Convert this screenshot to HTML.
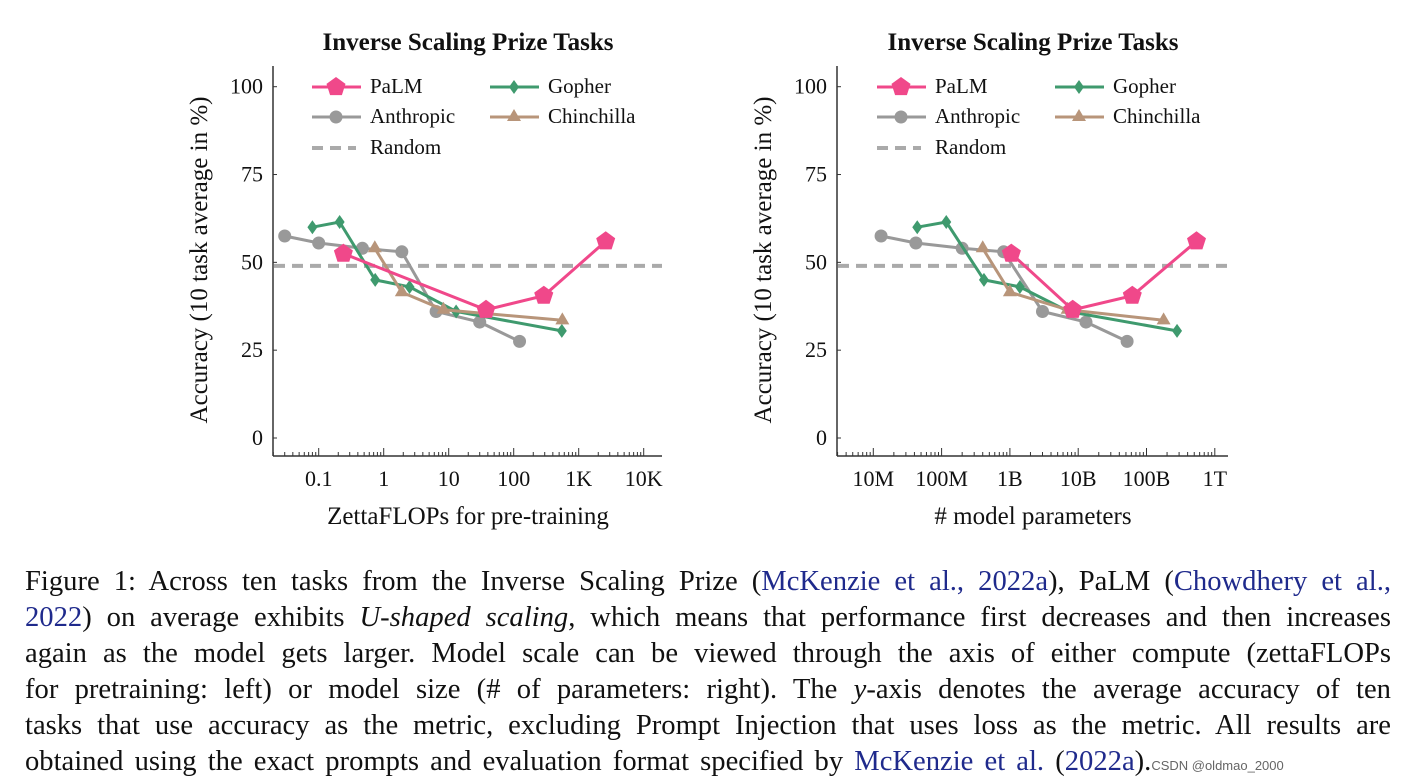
<!DOCTYPE html>
<html><head><meta charset="utf-8"><style>
body{margin:0;width:1405px;height:777px;background:#fff;overflow:hidden;position:relative;font-family:"Liberation Serif",serif;}
svg{position:absolute;left:0;top:0}
#cap{position:absolute;left:25px;top:564px;width:1366px;font-size:28.6px;line-height:36px;color:#111;}
#cap div{text-align:justify;text-align-last:justify;white-space:nowrap;height:36px}
#cap div.last{text-align-last:left;word-spacing:4px}
#cap a{color:#1f2a8c;text-decoration:none}
.wm{font-family:"Liberation Sans",sans-serif;font-size:13px;color:#666;word-spacing:0}
</style></head><body>
<svg id="chart" width="1405" height="560"></svg>
<div id="cap">
<div>Figure 1: Across ten tasks from the Inverse Scaling Prize (<a>McKenzie et al., 2022a</a>), PaLM (<a>Chowdhery et al.,</a></div>
<div><a>2022</a>) on average exhibits <i>U-shaped scaling</i>, which means that performance first decreases and then increases</div>
<div>again as the model gets larger. Model scale can be viewed through the axis of either compute (zettaFLOPs</div>
<div>for pretraining: left) or model size (# of parameters: right). The <i>y</i>-axis denotes the average accuracy of ten</div>
<div>tasks that use accuracy as the metric, excluding Prompt Injection that uses loss as the metric. All results are</div>
<div class="last">obtained using the exact prompts and evaluation format specified by <a>McKenzie et al.</a> (<a>2022a</a>).<span class="wm">CSDN @oldmao_2000</span></div>
</div>
<script>
// Left chart data (x = ZettaFLOPs)
const leftAnthropicX=[0.03,0.1,0.47,1.9,6.4,30,123];
const leftAnthropicY=[57.5,55.5,54,53,36,33,27.5];
const leftGopherX=[0.08,0.21,0.74,2.5,13,550];
const leftGopherY=[60,61.5,45,43,36,30.5];
const leftChinX=[0.73,1.9,8.3,560];
const leftChinY=[54,41.5,36.5,33.5];
const leftPalmX=[0.24,37.5,290,2600];
const leftPalmY=[52.5,36.5,40.5,56];
// Right chart data (x = parameters)
const rightAnthropicX=[1.3e7,4.2e7,2e8,8.1e8,3e9,1.3e10,5.2e10];
const rightAnthropicY=[57.5,55.5,54,53,36,33,27.5];
const rightGopherX=[4.4e7,1.17e8,4.17e8,1.4e9,7.2e9,2.8e11];
const rightGopherY=[60,61.5,45,43,36,30.5];
const rightChinX=[4e8,1e9,7e9,1.78e11];
const rightChinY=[54,41.5,36.5,33.5];
const rightPalmX=[1.05e9,8.3e9,6.2e10,5.4e11];
const rightPalmY=[52.5,36.5,40.5,56];
const yTicks=[0,25,50,75,100];
const leftXTickVals=[0.1,1,10,100,1000,10000];
const leftXTickLabels=["0.1","1","10","100","1K","10K"];
const rightXTickVals=[1e7,1e8,1e9,1e10,1e11,1e12];
const rightXTickLabels=["10M","100M","1B","10B","100B","1T"];
const randomLevel=49;

const S=document.getElementById('chart');const NS='http://www.w3.org/2000/svg';
function el(t,a,p){const e=document.createElementNS(NS,t);for(const k in a)e.setAttribute(k,a[k]);(p||S).appendChild(e);return e;}
function txt(x,y,s,a){const e=el('text',Object.assign({x:x,y:y,'font-family':'"Liberation Serif",serif','font-size':22,fill:'#111'},a||{}));e.textContent=s;return e;}
const C={palm:'#f0488a',gopher:'#3f9a6e',anth:'#999',chin:'#b8957a',rand:'#aaa'};
function marker(g,type,x,y){let e;
 if(type==='palm'){let p=[];for(let i=0;i<5;i++){const a=-Math.PI/2+i*2*Math.PI/5;p.push((x+10*Math.cos(a)).toFixed(1)+','+(y+10*Math.sin(a)).toFixed(1));}e=el('polygon',{points:p.join(' '),fill:C.palm},g);}
 else if(type==='anth')e=el('circle',{cx:x,cy:y,r:6.5,fill:C.anth},g);
 else if(type==='gopher')e=el('polygon',{points:`${x},${y-7} ${x+5},${y} ${x},${y+7} ${x-5},${y}`,fill:C.gopher},g);
 else e=el('polygon',{points:`${x},${y-8} ${x+7},${y+4} ${x-7},${y+4}`,fill:C.chin},g);
 }
function chart(o){
 const g=el('g',{});
 const y=v=>438-v*3.513;
 const x=v=>o.x0+(Math.log10(v)-o.l0)*o.dec;
 txt(o.cx,50,'Inverse Scaling Prize Tasks',{'font-weight':'bold','font-size':25,'text-anchor':'middle'});
 el('line',{x1:o.ax,y1:66,x2:o.ax,y2:456,stroke:'#333','stroke-width':1.5},g);
 el('line',{x1:o.ax,y1:456,x2:o.xend,y2:456,stroke:'#333','stroke-width':1.5},g);
 yTicks.forEach(t=>{el('line',{x1:o.ax,x2:o.ax+4,y1:y(t),y2:y(t),stroke:'#333'},g);txt(o.ax-10,y(t)+7,String(t),{'text-anchor':'end'});});
 o.tv.forEach((t,i)=>{const px=x(t);el('line',{x1:px,x2:px,y1:456,y2:448,stroke:'#333'},g);
  txt(px,486,o.tl[i],{'text-anchor':'middle'});
  for(let m=2;m<10;m++){const mx=x(t*m);if(mx<o.xend&&mx>o.ax)el('line',{x1:mx,x2:mx,y1:456,y2:452,stroke:'#333'},g);}
  if(i===0)for(let m=2;m<10;m++){const mx=x(t/10*m);if(mx>o.ax)el('line',{x1:mx,x2:mx,y1:456,y2:452,stroke:'#333'},g);}});
 const yt=txt(0,0,'Accuracy (10 task average in %)',{'font-size':25,'text-anchor':'middle',transform:`translate(${o.ax-66},260) rotate(-90)`});
 txt(o.cx,524,o.xt,{'font-size':25,'text-anchor':'middle'});
 const rl=el('line',{x1:o.ax+1,x2:o.xend,y1:y(randomLevel),y2:y(randomLevel),stroke:C.rand,'stroke-width':4,'stroke-dasharray':'11,7'},g);
 
 const ser=[['anth',o.d.ax,o.d.ay],['gopher',o.d.gx,o.d.gy],['chin',o.d.cx,o.d.cy],['palm',o.d.px,o.d.py]];
 ser.forEach(s=>{const pts=s[1].map((v,i)=>x(v).toFixed(1)+','+y(s[2][i]).toFixed(1)).join(' ');
  const pl=el('polyline',{points:pts,fill:'none',stroke:C[s[0]],'stroke-width':3},g);
  s[1].forEach((v,i)=>marker(g,s[0],x(v),y(s[2][i])));});
 const L=[['palm','PaLM',o.lx,87],['gopher','Gopher',o.lx+178,87],['anth','Anthropic',o.lx,117],['chin','Chinchilla',o.lx+178,117]];
 L.forEach(l=>{el('line',{x1:l[2],x2:l[2]+49,y1:l[3],y2:l[3],stroke:C[l[0]],'stroke-width':3},g);marker(g,l[0],l[2]+24,l[3]);
  txt(l[2]+58,l[3]+6,l[1],{'font-size':21});});
 el('line',{x1:o.lx,x2:o.lx+44,y1:148,y2:148,stroke:C.rand,'stroke-width':4,'stroke-dasharray':'11,7'},g);
 txt(o.lx+58,154,'Random',{'font-size':21});
}
chart({name:'left-chart',ax:273,xend:662,x0:318.7,l0:-1,dec:65,cx:468,lx:312,tv:leftXTickVals,tl:leftXTickLabels,xt:'ZettaFLOPs for pre-training',
 d:{ax:leftAnthropicX,ay:leftAnthropicY,gx:leftGopherX,gy:leftGopherY,cx:leftChinX,cy:leftChinY,px:leftPalmX,py:leftPalmY}});
chart({name:'right-chart',ax:837,xend:1228,x0:873.3,l0:7,dec:68.3,cx:1033,lx:877,tv:rightXTickVals,tl:rightXTickLabels,xt:'# model parameters',
 d:{ax:rightAnthropicX,ay:rightAnthropicY,gx:rightGopherX,gy:rightGopherY,cx:rightChinX,cy:rightChinY,px:rightPalmX,py:rightPalmY}});
</script>
</body></html>
